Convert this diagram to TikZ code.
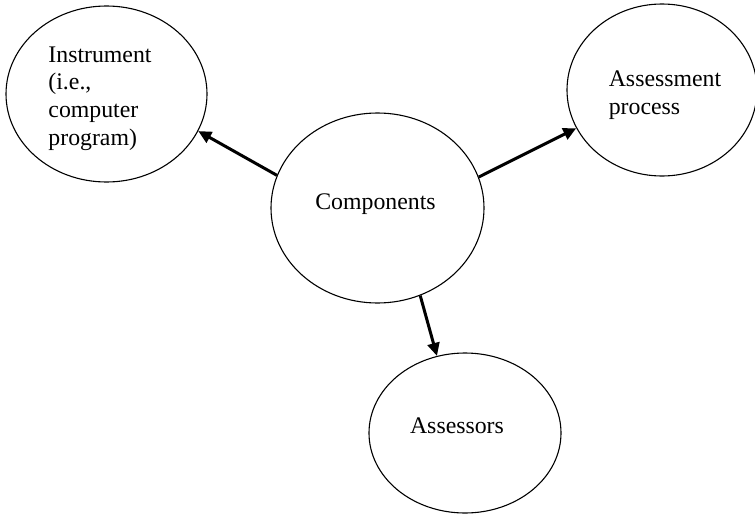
\documentclass[tikz,border=0pt]{standalone}
\usepackage{fontspec}
\setmainfont{Liberation Serif}
\usetikzlibrary{shapes.geometric,arrows.meta}
\begin{document}
\begin{tikzpicture}[x=1pt,y=-1pt,
  oval/.style={draw=black,line width=1.1pt,ellipse,inner sep=0pt},
  lbl/.style={font=\fontsize{23.8}{27.7}\selectfont,inner sep=0pt,align=left},
  arr/.style={line width=3pt,-{Triangle[length=13pt,width=12pt]}}]
\useasboundingbox (0,0) rectangle (755,514);
\begin{scope}
\clip (0,0) rectangle (755,514);
\node[oval,minimum width=201pt,minimum height=176pt] (instr) at (106.5,94) {};
\node[oval,minimum width=190pt,minimum height=172pt] (assess) at (662,90) {};
\node[oval,minimum width=213pt,minimum height=190pt] (comp) at (377.5,208) {};
\node[oval,minimum width=192pt,minimum height=160pt] (asr) at (465,433) {};
\end{scope}
\node[lbl] (tinstr) at (100,98.5) {Instrument\\(i.e.,\\computer\\program)};
\node[lbl] (tassess) at (665,95) {Assessment\\process};
\node[lbl,anchor=base] (tcomp) at (375.5,209) {Components};
\node[lbl,anchor=base] (tasr) at (457,433) {Assessors};
\draw[arr] (comp.162) -- (instr.-22.5);
\draw[arr] (comp.17) -- (assess.204);
\draw[arr] (comp.-64.8) -- (asr.110);
\end{tikzpicture}
\end{document}
